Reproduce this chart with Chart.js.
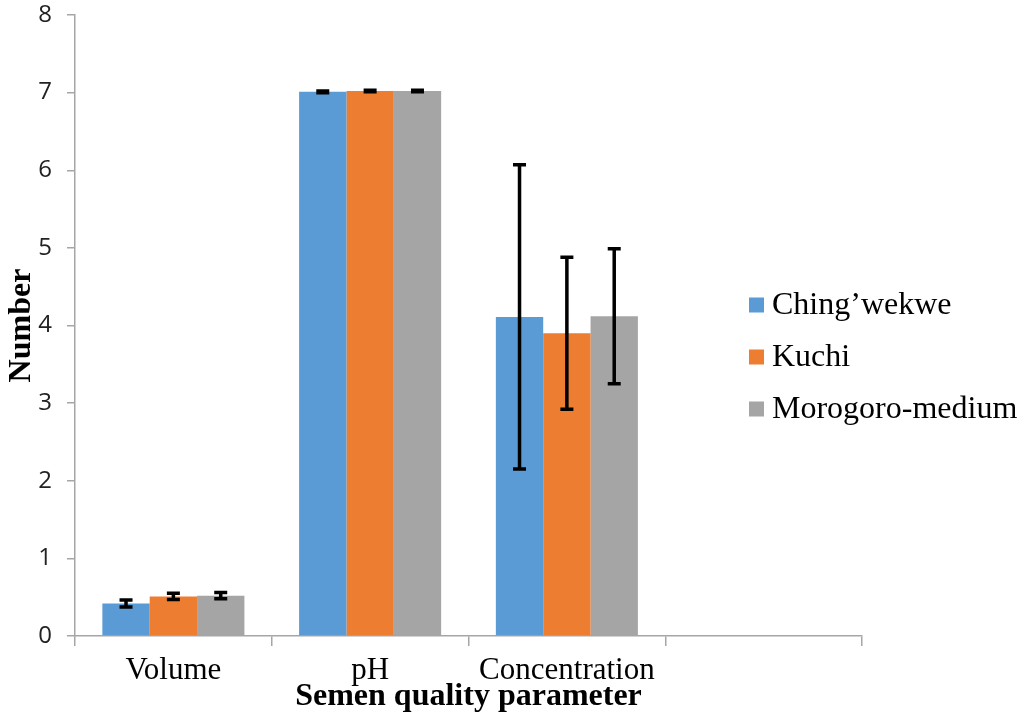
<!DOCTYPE html>
<html>
<head>
<meta charset="utf-8">
<script src="https://cdn.jsdelivr.net/npm/chart.js@4.4.1/dist/chart.umd.min.js"></script>
<style>
  html, body { margin: 0; padding: 0; background: #fff; }
  #wrap { width: 1021px; height: 714px; }
</style>
</head>
<body>
<div id="wrap"><canvas id="chart" width="1021" height="714"></canvas></div>
<script>
// ── Data ──────────────────────────────────────────────────────────────────────
const categories = ["Volume", "pH", "Concentration", ""];
const seriesNames = ["Ching\u2019wekwe", "Kuchi", "Morogoro-medium"];
const chingwekwe = [0.42, 7.01, 4.11, null];
const kuchi      = [0.51, 7.02, 3.90, null];
const morogoro   = [0.52, 7.02, 4.12, null];
const errChingwekwe = [0.045, 0.01, 1.96, null];
const errKuchi      = [0.04, 0.01, 0.98, null];
const errMorogoro   = [0.04, 0.01, 0.87, null];
const yTicks = [0, 1, 2, 3, 4, 5, 6, 7, 8];

// ── Style ─────────────────────────────────────────────────────────────────────
const colors = ["#5b9bd5", "#ed7d31", "#a5a5a5"];
const axisColor = "#a6a6a6";
const serif = "'Liberation Serif', 'Times New Roman', serif";

// ── Plugins ───────────────────────────────────────────────────────────────────
const errorBars = {
  id: "errorBars",
  afterDatasetsDraw(chart) {
    const ctx = chart.ctx;
    const y = chart.scales.y;
    ctx.save();
    ctx.strokeStyle = "#000";
    ctx.lineWidth = 3.5;
    chart.data.datasets.forEach((ds, i) => {
      const meta = chart.getDatasetMeta(i);
      meta.data.forEach((bar, j) => {
        const v = ds.data[j], e = ds.errors[j];
        if (v == null || e == null) return;
        const top = y.getPixelForValue(v + e);
        const bot = y.getPixelForValue(v - e);
        ctx.beginPath();
        ctx.moveTo(bar.x, top); ctx.lineTo(bar.x, bot);
        ctx.moveTo(bar.x - 6.5, top); ctx.lineTo(bar.x + 6.5, top);
        ctx.moveTo(bar.x - 6.5, bot); ctx.lineTo(bar.x + 6.5, bot);
        ctx.stroke();
      });
    });
    ctx.restore();
  }
};

// category labels drawn by hand so they can sit close above the axis title
const xLabels = {
  id: "xLabels",
  afterDraw(chart) {
    const ctx = chart.ctx;
    const x = chart.scales.x;
    ctx.save();
    ctx.font = "31px " + serif;
    ctx.fillStyle = "#000";
    ctx.textAlign = "center";
    ctx.textBaseline = "alphabetic";
    categories.forEach((c, i) => {
      if (!c) return;
      ctx.fillText(c, x.getPixelForTick(i), x.top + 43);
    });
    ctx.restore();
  }
};

const sideLegend = {
  id: "sideLegend",
  afterDraw(chart) {
    const ctx = chart.ctx;
    ctx.save();
    ctx.font = "32px " + serif;
    ctx.textBaseline = "middle";
    ctx.textAlign = "left";
    chart.data.datasets.forEach((ds, i) => {
      const cy = 305 + i * 52;
      ctx.fillStyle = ds.backgroundColor;
      ctx.fillRect(749, cy - 7.5, 15, 15);
      ctx.fillStyle = "#000";
      ctx.fillText(ds.label, 772, cy + 1);
    });
    ctx.restore();
  }
};

// ── Chart ─────────────────────────────────────────────────────────────────────
const values = [chingwekwe, kuchi, morogoro];
const errors = [errChingwekwe, errKuchi, errMorogoro];

new Chart(document.getElementById("chart"), {
  type: "bar",
  data: {
    labels: categories,
    datasets: seriesNames.map((name, i) => ({
      label: name,
      data: values[i],
      errors: errors[i],
      backgroundColor: colors[i],
      borderWidth: 0,
      barPercentage: 1.0,
      categoryPercentage: 0.722
    }))
  },
  options: {
    responsive: false,
    animation: false,
    layout: { padding: { left: 0, right: 159, top: 15, bottom: 0 } },
    plugins: { legend: { display: false }, tooltip: { enabled: false } },
    scales: {
      x: {
        border: { color: axisColor, width: 1.5 },
        grid: { display: true, drawOnChartArea: false, color: axisColor, tickLength: 10, lineWidth: 1.5 },
        ticks: { display: false },
        title: {
          display: true,
          text: "Semen quality parameter",
          color: "#000",
          font: { family: serif, size: 32, weight: "bold", lineHeight: 1 },
          padding: { top: 0, bottom: 1 }
        },
        afterFit(scale) { scale.height = 78; }
      },
      y: {
        min: 0,
        max: 8,
        border: { color: axisColor, width: 1.5 },
        grid: { display: true, drawOnChartArea: false, color: axisColor, tickLength: 8, lineWidth: 1.5 },
        afterBuildTicks(scale) { scale.ticks = yTicks.map(v => ({ value: v })); },
        ticks: {
          color: "#222",
          padding: 15,
          font: { family: "'Open Sans', 'Liberation Sans', sans-serif", size: 24 }
        },
        title: {
          display: true,
          text: "Number",
          color: "#000",
          font: { family: serif, size: 32, weight: "bold" },
          padding: { top: 3, bottom: 0 }
        },
        afterFit(scale) {
          scale.width = 75;
          scale.paddingTop = 0;
          scale.paddingBottom = 0;
        }
      }
    }
  },
  plugins: [errorBars, xLabels, sideLegend]
});
</script>
</body>
</html>
